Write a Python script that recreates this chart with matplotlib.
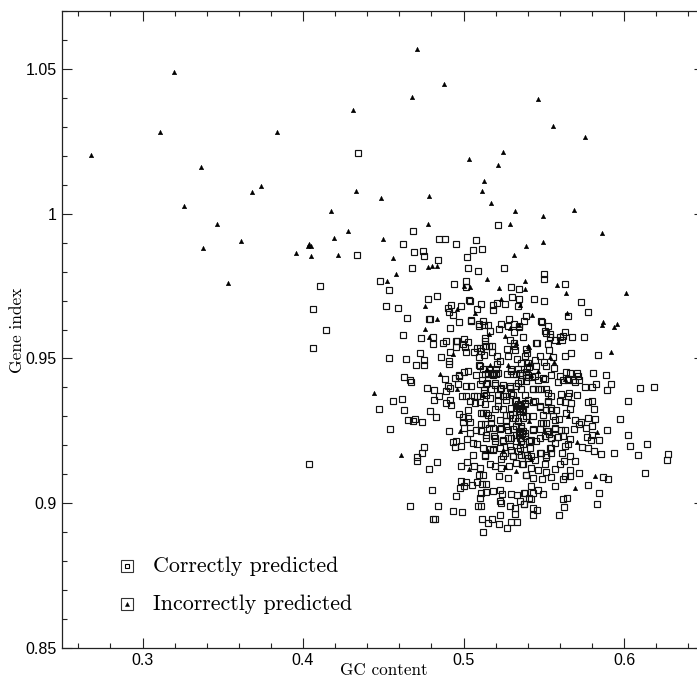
import numpy as np
import matplotlib
matplotlib.use("Agg")
import matplotlib.pyplot as plt
from matplotlib.ticker import MultipleLocator, FixedLocator, FixedFormatter

# (GC content, gene index)
incorrect = [
(.2678,1.0201),(.3195,1.0491),(.3106,1.0283),(.3366,1.0162),(.3260,1.0025),(.3463,.9964),(.3685,1.0075),(.3740,1.0097),
(.3835,1.0283),(.4173,1.0010),(.4279,.9941),(.4196,.9915),(.4313,1.0357),(.4333,1.0079),(.4483,1.0055),(.4711,1.0569),
(.4877,1.0448),(.4682,1.0402),(.5465,1.0397),(.5555,1.0304),(.5754,1.0265),(.5247,1.0214),(.5037,1.0188),(.5216,1.0169),
(.5129,1.0114),(.5118,1.0078),(.5170,1.0038),(.5318,1.0008),(.5494,.9992),(.5687,1.0014),(.4784,1.0062),(.4780,.9964),
(.5289,.9964),(.5860,.9932),(.3615,.9904),(.3380,.9880),(.3532,.9759),(.3955,.9864),(.4040,.9895),(.4047,.9887),
(.4047,.9855),(.4034,.9890),(.4221,.9858),(.4497,.9912),(.4558,.9848),(.5389,.9890),(.5313,.9857),(.4778,.9815),
(.4805,.9820),(.4836,.9818),(.4580,.9792),(.4526,.9769),(.5148,.9774),(.5383,.9769),(.5000,.9749),(.5040,.9748),
(.5221,.9744),(.5381,.9739),(.5231,.9704),(.5352,.9685),(.4961,.9672),(.4761,.9680),(.5073,.9656),(.4832,.9636),
(.4761,.9601),(.4788,.9574),(.5256,.9578),(.5159,.9585),(.5288,.9605),(.5344,.9617),(.5329,.9554),(.4934,.9514),
(.5402,.9542),(.5277,.9479),(.4851,.9448),(.5163,.9476),(.5146,.9463),(.5497,.9902),(.5584,.9755),(.5636,.9725),
(.6015,.9725),(.5646,.9657),(.5428,.9651),(.5869,.9625),(.5865,.9615),(.5958,.9619),(.5936,.9610),(.5588,.9557),
(.5919,.9523),(.5405,.9541),(.5536,.9506),(.5411,.9483),(.5561,.9488),(.5463,.9457),(.5422,.9444),(.5630,.9430),
(.4443,.9381),(.4612,.9165),(.4976,.9251),(.4959,.9393),(.5032,.9119),(.5246,.9183),(.5329,.9113),(.5121,.9375),
(.5152,.9180),(.5256,.9126),(.5832,.9246),(.5709,.9213),(.5821,.9095),(.5692,.9054),(.5411,.9283),(.5651,.9300),
(.5422,.9153),
]

correct_top = [
(.4344,1.0210),(.5218,.9962),(.4686,.9939),(.4335,.9859),(.4109,.9749),(.4061,.9671),(.4060,.9537),(.4146,.9599),
(.4040,.9137),(.4847,.9913),(.4882,.9913),(.4622,.9894),(.4953,.9897),(.5080,.9908),(.4689,.9869),(.4745,.9871),
(.4753,.9854),(.5061,.9875),(.5115,.9878),(.5019,.9852),(.4842,.9841),(.4682,.9813),(.5028,.9813),(.5090,.9801),
(.5250,.9813),(.4478,.9769),(.4535,.9736),(.4938,.9756),(.5017,.9766),(.5015,.9748),(.5296,.9748),(.5344,.9741),
(.4778,.9704),(.4836,.9716),(.4520,.9682),(.4595,.9675),(.4924,.9683),(.4903,.9673),(.4982,.9682),(.5034,.9703),
(.5040,.9700),(.5107,.9687),(.5086,.9670),(.5209,.9693),(.5256,.9687),(.5186,.9684),(.5186,.9669),(.5300,.9712),
(.5344,.9706),(.5342,.9681),(.4907,.9659),(.4932,.9651),(.4647,.9639),(.4788,.9637),(.4794,.9635),(.5046,.9634),
(.5046,.9629),(.4974,.9625),(.4913,.9606),(.5119,.9628),(.5094,.9620),(.5096,.9611),(.5127,.9617),(.5152,.9617),
(.5231,.9619),(.5281,.9637),(.5389,.9648),(.5377,.9628),(.5313,.9620),(.5275,.9613),(.5344,.9613),(.5348,.9607),
(.5219,.9603),(.5163,.9594),(.5313,.9590),(.4624,.9580),(.4736,.9572),(.4813,.9575),(.4809,.9549),(.4874,.9552),
(.4888,.9560),(.5136,.9572),(.5136,.9559),(.5369,.9573),(.4951,.9562),(.4961,.9562),(.5003,.9566),(.5028,.9557),
(.4955,.9540),(.5009,.9540),(.4996,.9549),(.5136,.9544),(.5157,.9544),(.5177,.9544),(.5084,.9536),(.5102,.9537),
(.5273,.9534),(.5292,.9563),(.5313,.9555),(.5317,.9542),(.5319,.9528),(.5389,.9533),(.4915,.9524),(.5013,.9521),
(.5063,.9522),(.5107,.9525),(.5130,.9511),(.5094,.9504),(.5175,.9524),(.5209,.9509),(.4726,.9519),(.4537,.9502),
(.4639,.9497),(.4755,.9495),(.4707,.9479),(.4757,.9478),(.4859,.9505),(.4907,.9480),(.4911,.9490),(.5277,.9510),
(.5331,.9499),(.5385,.9509),(.5229,.9490),(.5206,.9481),(.5356,.9483),(.5404,.9483),(.5096,.9476),(.5100,.9473),
(.5202,.9465),(.5159,.9463),(.5298,.9464),(.5340,.9465),(.5398,.9467),(.5030,.9455),(.5005,.9452),(.4969,.9443),
(.4974,.9439),(.4632,.9436),(.4664,.9427),(.4884,.9429),(.4944,.9432),(.5075,.9444),(.5134,.9448),(.5150,.9445),
(.5204,.9445),(.5271,.9447),(.5308,.9448),(.5329,.9447),(.5367,.9443),(.5392,.9443),
(.5503,.9792),(.5501,.9773),(.5634,.9757),(.5441,.9705),(.5501,.9699),(.5732,.9694),(.5775,.9661),(.5480,.9629),
(.5490,.9627),(.5524,.9613),(.5651,.9646),(.5505,.9596),(.5515,.9587),(.5538,.9586),(.5540,.9574),(.5630,.9591),
(.5619,.9576),(.5603,.9574),(.5611,.9564),(.5567,.9565),(.5678,.9573),(.5753,.9575),(.5451,.9555),(.5461,.9555),
(.5524,.9551),(.5532,.9530),(.5393,.9520),(.5474,.9508),(.5559,.9506),(.5630,.9510),(.5667,.9519),(.5836,.9512),
(.5447,.9493),(.5501,.9488),(.5405,.9471),(.5451,.9475),(.5511,.9475),(.5563,.9467),(.5391,.9452),(.5638,.9452),
(.5661,.9449),(.5705,.9449),(.5804,.9449),(.5888,.9444),(.5599,.9438),(.5713,.9438),(.5401,.9436),(.5428,.9436),
(.5463,.9427),(.5505,.9430),(.5651,.9429),(.5682,.9427),
]

correct_low = [
(.4670,.9418),(.4774,.9399),(.4818,.9392),(.4845,.9372),(.4815,.9357),(.4614,.9361),(.4558,.9352),(.4476,.9327),
(.4628,.9321),(.4793,.9318),(.4892,.9345),(.4919,.9356),(.4924,.9340),(.4894,.9389),(.4903,.9406),(.4913,.9398),
(.4965,.9413),(.5017,.9406),(.5048,.9404),(.4990,.9370),(.5017,.9370),(.5063,.9372),(.5084,.9372),(.5142,.9375),
(.5038,.9352),(.5071,.9347),(.5100,.9349),(.5132,.9341),(.5215,.9335),(.4971,.9307),(.5028,.9321),(.4996,.9297),
(.5028,.9295),(.5121,.9312),(.5152,.9306),(.4828,.9297),(.4657,.9289),(.4686,.9283),(.4697,.9291),(.4741,.9281),
(.4539,.9256),(.4907,.9248),(.4996,.9280),(.5038,.9280),(.5001,.9260),(.5111,.9274),(.5173,.9277),(.5079,.9252),
(.5111,.9248),(.5042,.9243),(.5021,.9223),(.5188,.9231),(.5159,.9260),(.5225,.9255),(.5267,.9266),(.4934,.9212),
(.4951,.9214),(.4944,.9194),(.4986,.9197),(.5059,.9209),(.5084,.9203),(.4757,.9195),(.4743,.9174),(.4711,.9159),
(.4709,.9145),(.4836,.9144),(.4788,.9118),(.4986,.9129),(.5019,.9142),(.5063,.9130),(.5121,.9191),(.5184,.9185),
(.5059,.9168),(.5132,.9163),(.5231,.9153),(.5105,.9122),(.5163,.9134),(.5194,.9128),(.5236,.9122),(.5121,.9099),
(.5096,.9096),(.5219,.9094),(.5283,.9130),(.5329,.9139),(.5367,.9134),(.5308,.9163),(.5277,.9088),(.5392,.9099),
(.4986,.9076),(.5017,.9075),(.5052,.9063),(.5084,.9075),(.5115,.9066),(.5138,.9067),(.5001,.9058),(.4980,.9051),
(.4801,.9044),(.4955,.9025),(.5107,.9036),(.5138,.9038),(.5186,.9041),(.5105,.9019),(.5229,.9047),(.5242,.9032),
(.5298,.9031),(.5335,.9027),(.5381,.9036),(.5350,.9009),(.5408,.9018),(.5225,.9007),(.5231,.9001),(.5288,.8992),
(.5321,.8984),(.5377,.8996),(.4666,.8991),(.4842,.8990),(.5088,.8990),(.5111,.8992),(.4932,.8974),(.4988,.8969),
(.5321,.8963),(.5225,.8961),(.4813,.8944),(.4822,.8944),(.5113,.8946),(.5179,.8946),(.5152,.8930),(.5223,.8929),
(.5298,.8935),(.5331,.8935),(.5273,.8916),(.5119,.8900),
(.5340,.9416),(.5392,.9421),(.5288,.9404),(.5360,.9393),(.5298,.9381),(.5381,.9375),(.5329,.9358),(.5267,.9358),
(.5236,.9398),(.5194,.9410),(.5142,.9413),(.5100,.9413),(.5215,.9375),(.5246,.9370),(.5340,.9335),(.5381,.9341),
(.5298,.9329),(.5350,.9318),(.5267,.9306),(.5308,.9295),(.5392,.9300),(.5340,.9283),(.5360,.9266),(.5308,.9255),
(.5381,.9243),(.5246,.9220),(.5277,.9226),(.5329,.9214),(.5371,.9203),(.5298,.9185),(.5340,.9180),(.5256,.9174),
(.5381,.9168),(.5402,.9157),(.5142,.9226),(.5194,.9214),
(.5588,.9418),(.5619,.9424),(.5651,.9424),(.5692,.9419),(.5719,.9424),(.5759,.9401),(.5802,.9402),(.5823,.9411),
(.5892,.9390),(.5917,.9412),(.6102,.9398),(.6187,.9401),(.6023,.9352),(.5709,.9375),(.5655,.9382),(.5609,.9376),
(.5651,.9370),(.5547,.9372),(.5515,.9393),(.5463,.9393),(.5432,.9393),(.5775,.9351),(.5798,.9352),(.5671,.9347),
(.5599,.9352),(.5630,.9350),(.5526,.9349),(.5432,.9349),(.5474,.9332),(.5815,.9325),(.5578,.9323),(.5547,.9323),
(.5515,.9323),(.5661,.9327),(.5640,.9312),(.5775,.9296),(.5817,.9292),(.5977,.9292),(.5692,.9289),(.5594,.9291),
(.5557,.9300),(.5495,.9278),(.5734,.9280),(.5719,.9272),(.5798,.9266),(.5765,.9259),(.5688,.9255),(.5630,.9252),
(.5572,.9258),(.5609,.9254),(.5892,.9253),(.5802,.9236),(.5769,.9228),(.5794,.9219),(.5842,.9220),(.6023,.9234),
(.5665,.9222),(.5619,.9232),(.5588,.9229),(.5474,.9255),(.5432,.9255),(.5505,.9232),(.5547,.9226),(.5453,.9214),
(.5411,.9214),(.5736,.9195),(.5773,.9192),(.6035,.9198),(.6144,.9203),(.5630,.9197),(.5651,.9203),(.5567,.9209),
(.5536,.9191),(.5811,.9181),(.5859,.9169),(.5936,.9172),(.6087,.9167),(.6273,.9171),(.6266,.9148),(.5615,.9173),
(.5661,.9162),(.5692,.9145),(.5624,.9145),(.5547,.9172),(.5478,.9174),(.5515,.9160),(.5443,.9151),(.5395,.9168),
(.5567,.9119),(.5599,.9137),(.5505,.9134),(.5370,.9134),(.5418,.9122),(.5463,.9114),(.5511,.9107),(.5665,.9116),
(.5719,.9106),(.5665,.9093),(.5630,.9093),(.5619,.9084),(.5547,.9090),(.5486,.9082),(.5436,.9088),(.5391,.9099),
(.5867,.9092),(.5902,.9084),(.6133,.9106),(.5567,.9059),(.5775,.9062),(.5418,.9058),(.5463,.9047),(.5495,.9031),
(.5432,.9034),(.5378,.9036),(.5846,.9036),(.5418,.9016),(.5621,.9015),(.5644,.9018),(.5374,.8996),(.5628,.8988),
(.5834,.8996),(.5436,.8983),(.5461,.8977),(.5432,.8961),(.5592,.8959),
]

correct_core = [
(.5121,.9462),(.5152,.9450),(.5183,.9444),(.5214,.9450),(.5117,.9427),(.5146,.9416),(.5194,.9416),(.5246,.9410),
(.5173,.9393),(.5225,.9393),(.5287,.9398),(.5329,.9404),(.5360,.9421),(.5298,.9456),(.5350,.9450),(.5402,.9444),
(.5443,.9439),(.5495,.9433),(.5547,.9444),(.5433,.9393),
(.5485,.9393),(.5526,.9381),(.5162,.9364),(.5214,.9358),(.5266,.9370),
(.5308,.9375),(.5318,.9352),(.5339,.9341),(.5360,.9335),(.5381,.9347),(.5350,.9324),(.5329,.9329),(.5370,.9318),
(.5402,.9358),(.5443,.9352),(.5474,.9335),(.5526,.9352),(.5547,.9329),
(.5110,.9312),(.5142,.9312),(.5194,.9324),(.5246,.9324),(.5287,.9306),(.5173,.9295),(.5225,.9289),
(.5266,.9283),(.5318,.9295),(.5370,.9295),(.5433,.9300),(.5495,.9306),(.5516,.9278),(.5568,.9289),(.5131,.9272),
(.5183,.9260),(.5235,.9260),(.5277,.9254),(.5329,.9266),(.5360,.9260),(.5370,.9249),(.5350,.9243),(.5329,.9237),
(.5381,.9231),(.5433,.9254),(.5485,.9278),(.5526,.9249),(.5568,.9260),(.5142,.9237),
(.5194,.9226),(.5246,.9214),(.5298,.9226),(.5360,.9214),(.5422,.9220),(.5474,.9226),(.5547,.9226),
(.5162,.9186),(.5225,.9191),(.5287,.9197),(.5350,.9191),(.5412,.9191),(.5485,.9174),(.5547,.9191),
(.5131,.9168),(.5183,.9186),(.5246,.9163),(.5308,.9163),(.5360,.9168),(.5422,.9163),
(.5516,.9168),
(.5345,.9330),(.5355,.9340),(.5365,.9325),(.5345,.9320),(.5355,.9250),(.5365,.9240),(.5345,.9235),(.5350,.9225),
(.5180,.9445),(.5190,.9450),(.5125,.9390),(.5130,.9380),(.5520,.9250),(.5530,.9240),
]

x_ticks = [0.3, 0.4, 0.5, 0.6]
x_labels = ["0.3", "0.4", "0.5", "0.6"]
y_ticks = [0.85, 0.9, 0.95, 1.0, 1.05]
y_labels = ["0.85", "0.9", "0.95", "1", "1.05"]
legend_names = ["Correctly predicted", "Incorrectly predicted"]

W, H = 697, 677
fig = plt.figure(figsize=(W / 100, H / 100), dpi=100)
# right spine sits past the edge of the image in the reference
ax = fig.add_axes([62.25 / W, 1 - 648 / H, 642 / W, 637 / H])

sq = np.array(correct_top + correct_low + correct_core)
tr = np.array(incorrect)
ax.plot(sq[:, 0], sq[:, 1], ls="none", marker="s", ms=4.0, mfc="none", mec="#111111", mew=0.85)
ax.plot(tr[:, 0], tr[:, 1], ls="none", marker="^", ms=3.3, mfc="black", mec="black", mew=0.3)

ax.set_xlim(0.25, 0.65)
ax.set_ylim(0.85, 1.07)
ax.xaxis.set_major_locator(FixedLocator(x_ticks))
ax.xaxis.set_major_formatter(FixedFormatter(x_labels))
ax.yaxis.set_major_locator(FixedLocator(y_ticks))
ax.yaxis.set_major_formatter(FixedFormatter(y_labels))
ax.xaxis.set_minor_locator(MultipleLocator(0.02))
ax.yaxis.set_minor_locator(MultipleLocator(0.01))
ax.tick_params(which="major", direction="in", length=7.2, width=0.8, top=True, right=True, color="#222222")
ax.tick_params(which="minor", direction="in", length=3.6, width=0.8, top=True, right=True, color="#222222")
ax.tick_params(axis="x", which="major", pad=3.5)
ax.tick_params(axis="y", which="major", pad=4)
for lab in ax.get_xticklabels() + ax.get_yticklabels():
    lab.set_fontfamily("Liberation Sans")
    lab.set_fontsize(11.5)
for s in ax.spines.values():
    s.set_linewidth(0.9)
    s.set_color("#222222")

serif = ["cmr10", "DejaVu Serif"]
fig.text(384 / W, 1 - 670 / H, "GC content", family=serif, fontsize=12.3, ha="center", va="center")
fig.text(17 / W, 1 - 330 / H, "Gene index", family=serif, fontsize=12.5, rotation=90, ha="center", va="center")

# legend: small box with the marker inside
tf = ax.transAxes
for y, name, mark, kw in [
    (0.1287, legend_names[0], "s", dict(ms=3.4, mfc="none", mew=0.8)),
    (0.0691, legend_names[1], "^", dict(ms=3.0, mfc="black", mew=0.3)),
]:
    ax.plot([0.1009], [y], transform=tf, ls="none", marker="s", ms=9, mfc="none", mec="#333333", mew=0.8)
    ax.plot([0.1009], [y], transform=tf, ls="none", marker=mark, mec="black", **kw)
    ax.text(0.1413, y, name, transform=tf, family=serif, fontsize=15.8, va="center", ha="left")

fig.savefig("out.png", dpi=100)
plt.close(fig)
